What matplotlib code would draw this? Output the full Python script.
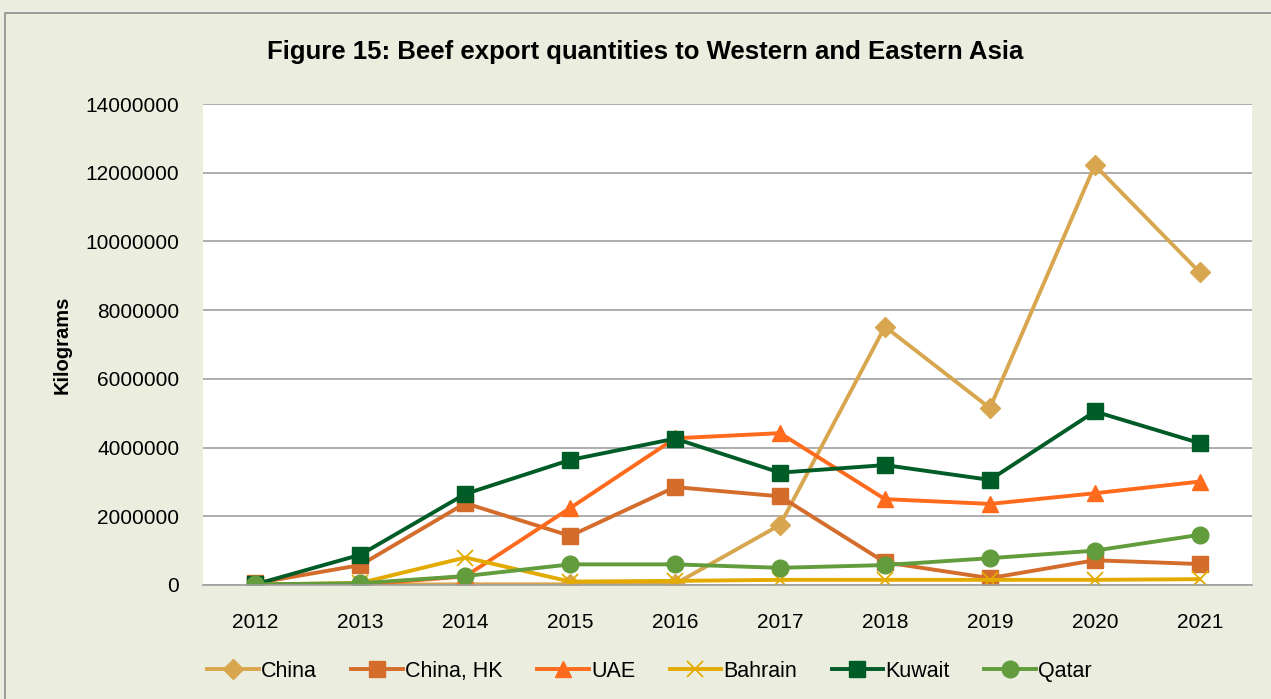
import matplotlib
matplotlib.use("Agg")
import matplotlib.pyplot as plt
from matplotlib import font_manager
from matplotlib.patches import Rectangle

names = {f.name for f in font_manager.fontManager.ttflist}
fam = "Liberation Sans Narrow" if "Liberation Sans Narrow" in names else "Liberation Sans"
plt.rcParams['font.family'] = [fam, 'DejaVu Sans']

years = ["2012", "2013", "2014", "2015", "2016", "2017", "2018", "2019", "2020", "2021"]
china = [10000, 10000, 20000, 20000, 30000, 1750000, 7520000, 5150000, 12220000, 9100000]
china_hk = [50000, 580000, 2380000, 1430000, 2850000, 2580000, 660000, 200000, 720000, 610000]
uae = [10000, 10000, 250000, 2240000, 4270000, 4420000, 2500000, 2360000, 2670000, 3010000]
bahrain = [10000, 60000, 800000, 100000, 120000, 150000, 150000, 150000, 150000, 170000]
kuwait = [20000, 880000, 2650000, 3640000, 4260000, 3270000, 3490000, 3060000, 5050000, 4130000]
qatar = [20000, 50000, 260000, 600000, 600000, 500000, 580000, 780000, 1000000, 1460000]

series = [
    ("China", china, "#D8A64E", "D", 10),
    ("China, HK", china_hk, "#D46C2C", "s", 11.5),
    ("UAE", uae, "#FF6A1C", "^", 12),
    ("Bahrain", bahrain, "#E3AA00", "x", 11),
    ("Kuwait", kuwait, "#005C27", "s", 12),
    ("Qatar", qatar, "#629C3D", "o", 12),
]

fig = plt.figure(figsize=(12.71, 6.99), dpi=100, facecolor="#EBEEDF")
fig.patches.append(Rectangle((0.004, -0.01), 1.0, 0.992, transform=fig.transFigure,
                             fill=False, edgecolor="#8C8C8C", linewidth=1.2))
ax = fig.add_axes([0.1597, 0.1631, 0.8255, 0.6881])
ax.set_facecolor("white")

x = list(range(len(years)))
for name, vals, col, mk, ms in series:
    if mk == "x":
        ax.plot(x, vals, color=col, lw=2.8, marker=mk, ms=ms, mew=1.3, label=name)
    else:
        ax.plot(x, vals, color=col, lw=2.8, marker=mk, ms=ms, mec=col, label=name)

ax.set_xlim(-0.5, len(years) - 0.5)
ax.set_ylim(0, 14000000)
ax.set_yticks(range(0, 14000001, 2000000))
ax.set_yticklabels([str(v) for v in range(0, 14000001, 2000000)])
ax.set_xticks(x)
ax.set_xticklabels(years)
ax.tick_params(axis="both", length=0, labelsize=15)
ax.tick_params(axis="x", pad=20)
ax.tick_params(axis="y", pad=17)
ax.grid(axis="y", color="#A0A0A0", lw=1.2)
ax.set_axisbelow(True)
for s in ["top", "right", "left"]:
    ax.spines[s].set_visible(False)
ax.spines["bottom"].set_color("#A0A0A0")
ax.spines["bottom"].set_linewidth(1.2)

ax.set_ylabel("Kilograms", fontsize=14.5, fontweight="bold", labelpad=10)
fig.text(0.508, 0.925, "Figure 15: Beef export quantities to Western and Eastern Asia",
         ha="center", va="center", fontsize=18.5, fontweight="bold")

fig.legend(loc="center", bbox_to_anchor=(0.511, 0.04), ncol=6, frameon=False,
           fontsize=15.5, handlelength=2.4, columnspacing=1.6, handletextpad=0.1)

fig.savefig("out.png", dpi=100, facecolor=fig.get_facecolor())
